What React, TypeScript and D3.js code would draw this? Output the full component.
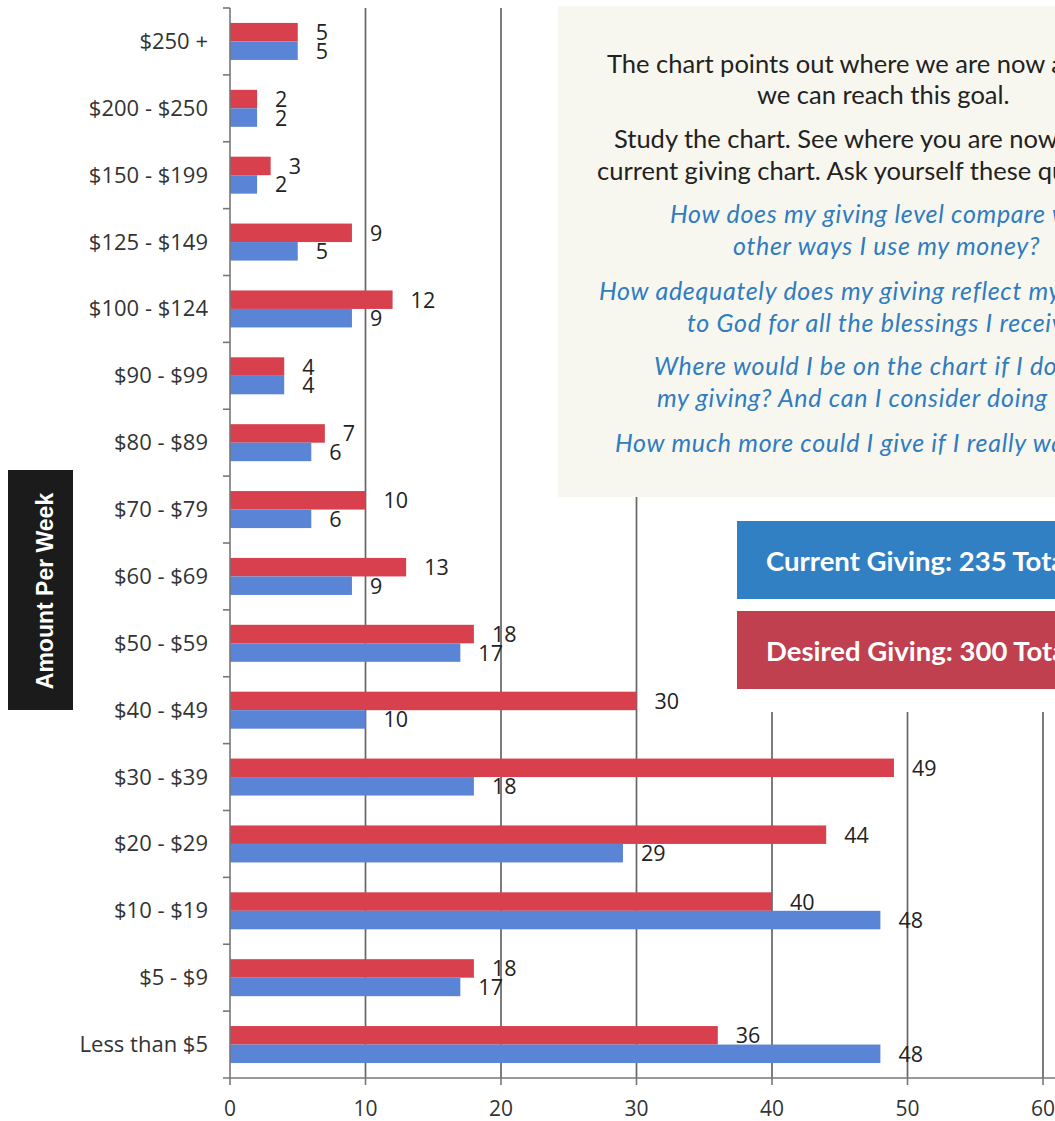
import React from "react";
import * as d3 from "d3";

const categories = [
  "$250 +", "$200 - $250", "$150 - $199", "$125 - $149", "$100 - $124",
  "$90 - $99", "$80 - $89", "$70 - $79", "$60 - $69", "$50 - $59",
  "$40 - $49", "$30 - $39", "$20 - $29", "$10 - $19", "$5 - $9", "Less than $5",
];
const desired = [5, 2, 3, 9, 12, 4, 7, 10, 13, 18, 30, 49, 44, 40, 18, 36];
const current = [5, 2, 2, 5, 9, 4, 6, 6, 9, 17, 10, 18, 29, 48, 17, 48];
const xTicks = [0, 10, 20, 30, 40, 50, 60];

const noteLines = [
  { t: "The chart points out where we are now and how", x: 607, y: 73, it: false },
  { t: "we can reach this goal.", x: 757, y: 104, it: false },
  { t: "Study the chart. See where you are now on the", x: 614, y: 148, it: false },
  { t: "current giving chart. Ask yourself these questions:", x: 597, y: 180, it: false },
  { t: "How does my giving level compare with the", x: 670, y: 223, it: true },
  { t: "other ways I use my money?", x: 733, y: 255, it: true },
  { t: "How adequately does my giving reflect my gratitude", x: 599, y: 300, it: true },
  { t: "to God for all the blessings I receive?", x: 687, y: 332, it: true },
  { t: "Where would I be on the chart if I doubled", x: 654, y: 375, it: true },
  { t: "my giving? And can I consider doing that?", x: 657, y: 407, it: true },
  { t: "How much more could I give if I really wanted to?", x: 615, y: 452, it: true },
];

const W = 1055, H = 1121;
const left = 230, right = 1043, top = 8, bottom = 1078;

export default function App() {
  const x = d3.scaleLinear().domain([0, 60]).range([left, right]);
  const y = d3.scaleBand().domain(categories).range([top, bottom]).paddingInner(0).paddingOuter(0);
  const bw = 18.5;
  const red = "#d8404e";
  const blue = "#5a84d6";
  const tickFont = "'Open Sans', sans-serif";
  return (
    <svg width={W} height={H} style={{ position: "absolute", left: 0, top: 0, background: "#fff" }}>
      {/* gridlines */}
      {xTicks.slice(1).map((t) => (
        <line key={t} x1={x(t)} x2={x(t)} y1={top} y2={bottom} stroke="#666" strokeWidth={1.7} />
      ))}
      {/* bars */}
      {categories.map((c, i) => {
        const cy = (y(c) as number) + y.bandwidth() / 2;
        return (
          <g key={c}>
            <rect x={x(0)} y={cy - bw} width={x(desired[i]) - x(0)} height={bw} fill={red} />
            <rect x={x(0)} y={cy} width={x(current[i]) - x(0)} height={bw} fill={blue} />
            <text x={x(desired[i]) + 18} y={cy - bw / 2 + 8} fontFamily={tickFont} fontSize={21.5} fill="#222">{desired[i]}</text>
            <text x={x(current[i]) + 18} y={cy + bw / 2 + 8} fontFamily={tickFont} fontSize={21.5} fill="#222">{current[i]}</text>
            <text x={208} y={cy + 7.5} textAnchor="end" fontFamily={tickFont} fontSize={22} fill="#333">{c}</text>
          </g>
        );
      })}
      {/* y axis */}
      <line x1={left} x2={left} y1={top} y2={bottom} stroke="#777" strokeWidth={1.6} />
      {categories.map((c) => (
        <line key={c} x1={left - 7} x2={left} y1={y(c) as number} y2={y(c) as number} stroke="#777" strokeWidth={1.6} />
      ))}
      {/* x axis */}
      <line x1={left - 7} x2={W} y1={bottom} y2={bottom} stroke="#777" strokeWidth={1.6} />
      {xTicks.map((t) => (
        <g key={t}>
          <line x1={x(t)} x2={x(t)} y1={bottom} y2={bottom + 7} stroke="#777" strokeWidth={1.6} />
          <text x={x(t)} y={1116} textAnchor="middle" fontFamily={tickFont} fontSize={21} fill="#333">{t}</text>
        </g>
      ))}
      {/* y axis title */}
      <rect x={8} y={470} width={65} height={240} fill="#1b1b1b" />
      <text transform="translate(53,591) rotate(-90)" textAnchor="middle" fontFamily="'Liberation Sans', Arial, sans-serif" fontWeight={700} fontSize={23} fill="#fff">Amount Per Week</text>
      {/* notes panel */}
      <rect x={558} y={6} width={W - 558} height={491} fill="#f8f7ef" />
      {noteLines.map((l, i) => (
        <text key={i} x={l.x} y={l.y} fontFamily="Lato, sans-serif" fontSize={l.it ? 25 : 25.5}
          letterSpacing={l.it ? 0.7 : 0}
          fontStyle={l.it ? "italic" : "normal"} fill={l.it ? "#2f7cc0" : "#222"}>{l.t}</text>
      ))}
      {/* legend panel */}
      <rect x={690} y={497} width={W - 690} height={215} fill="#fff" />
      <rect x={737} y={521} width={W - 737} height={78} fill="#3180c4" />
      <text x={766} y={571} fontFamily="Lato, sans-serif" fontWeight={700} fontSize={27.5} fill="#fff">Current Giving: 235 Total</text>
      <rect x={737} y={611} width={W - 737} height={78} fill="#c0404f" />
      <text x={766} y={661} fontFamily="Lato, sans-serif" fontWeight={700} fontSize={27.5} fill="#fff">Desired Giving: 300 Total</text>
    </svg>
  );
}
